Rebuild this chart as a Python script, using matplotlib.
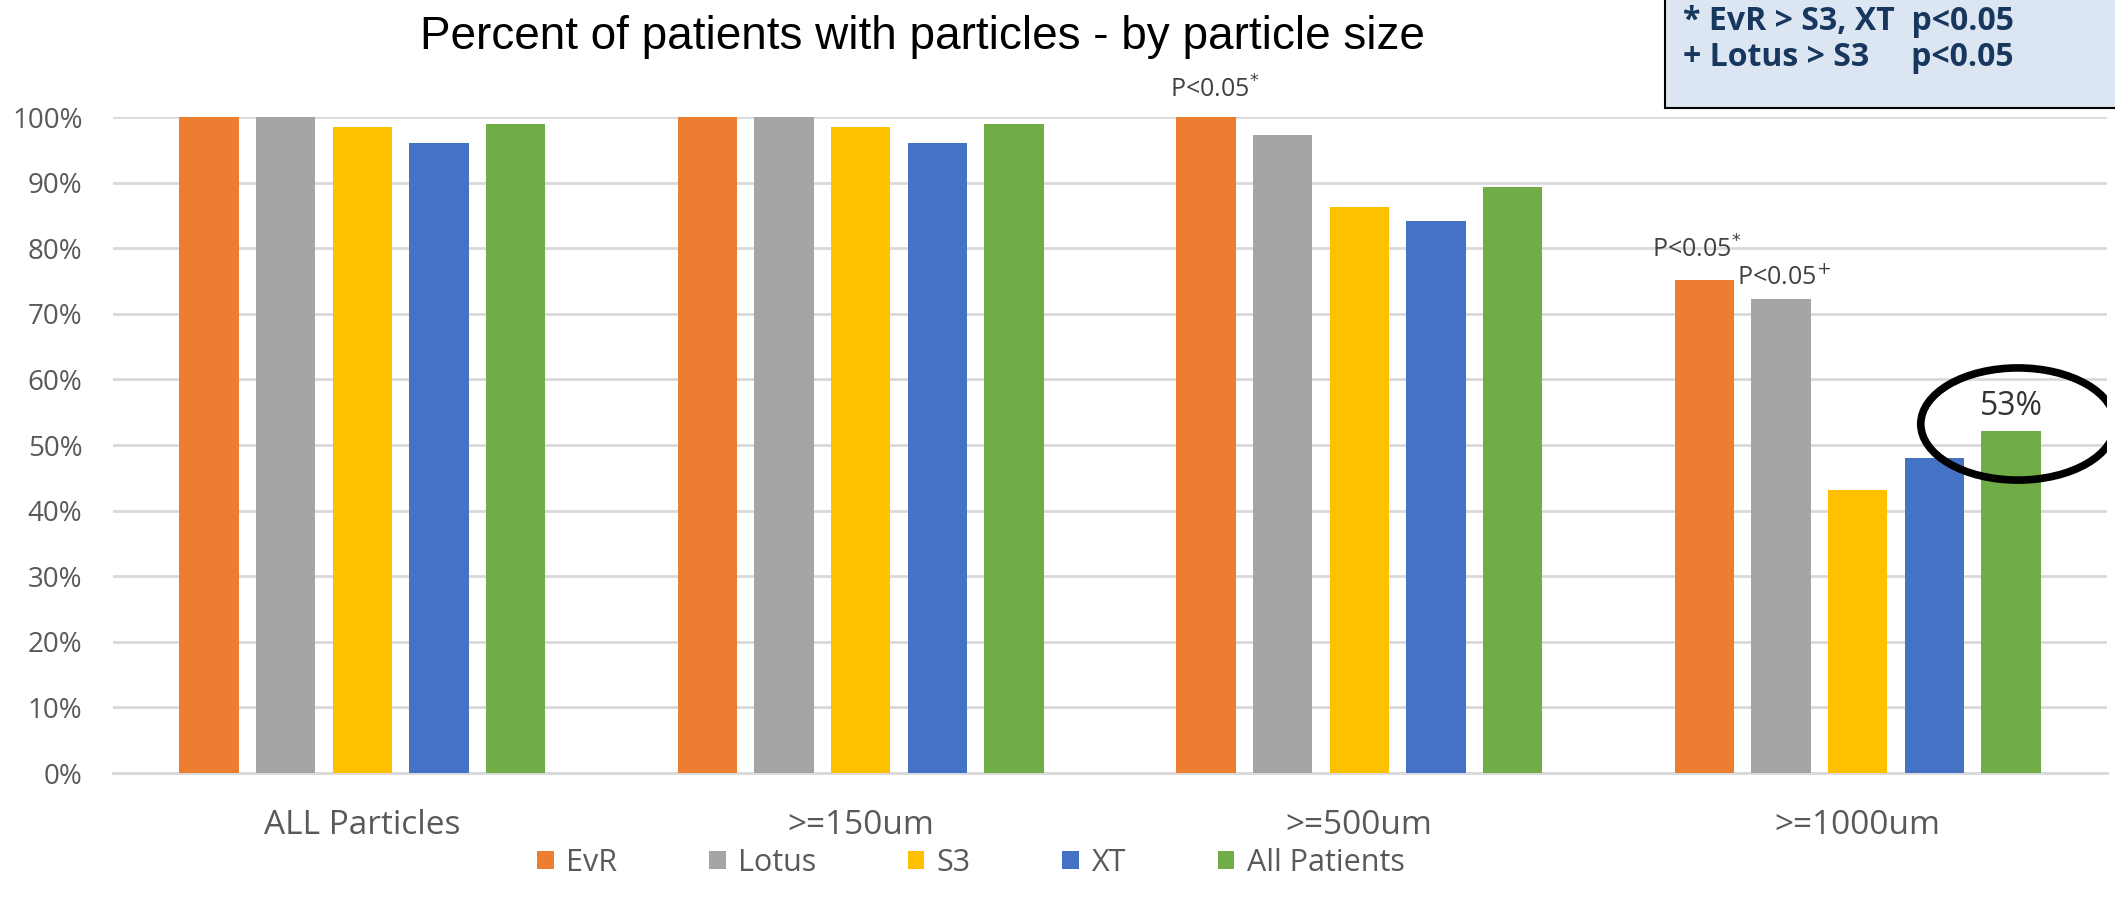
import numpy as np
import matplotlib.pyplot as plt
from matplotlib.patches import Ellipse, Rectangle

# data
categories = ["ALL Particles", ">=150um", ">=500um", ">=1000um"]
series = ["EvR", "Lotus", "S3", "XT", "All Patients"]
evr = [1.00, 1.00, 1.00, 0.751]
lotus = [1.00, 1.00, 0.972, 0.723]
s3 = [0.985, 0.985, 0.863, 0.432]
xt = [0.960, 0.960, 0.841, 0.480]
all_pat = [0.990, 0.990, 0.893, 0.522]
colors = ["#ED7D31", "#A5A5A5", "#FFC000", "#4472C4", "#70AD47"]
yticks = np.arange(0, 1.01, 0.1)

gray = "#595959"
plt.rcParams['font.family'] = ['Open Sans', 'DejaVu Sans']

fig = plt.figure(figsize=(21.15, 8.97), dpi=100)
ax = fig.add_axes([113/2115, 1-773/897, (2107-113)/2115, (773-117)/897])

x = np.arange(len(categories))
pitch, width = 0.1537, 0.119
bars = []
for i, (name, vals) in enumerate(zip(series, [evr, lotus, s3, xt, all_pat])):
    b = ax.bar(x + (i-2)*pitch, vals, width, color=colors[i], label=name, zorder=3)
    bars.append(b)

ax.set_xlim(-0.5, 3.5)
ax.set_ylim(0, 1.0)
ax.set_yticks(yticks)
ax.set_yticklabels([f"{int(round(t*100))}%" for t in yticks], fontsize=20, color=gray)
ax.set_xticks(x)
ax.set_xticklabels(categories, fontsize=24, color=gray)
ax.tick_params(length=0, pad=22)
ax.tick_params(axis='x', pad=26)
ax.grid(axis='y', color="#D9D9D9", lw=2, zorder=0)
for s in ['top', 'right', 'left']:
    ax.spines[s].set_visible(False)
ax.spines['bottom'].set_color("#D9D9D9")
ax.spines['bottom'].set_linewidth(2)

# significance labels
def plabel(bar, mark, dx=0, dy=8):
    ax.annotate("P<0.05$^{" + mark + "}$", xy=(bar.get_x() + bar.get_width()/2, bar.get_height()),
                xytext=(dx, dy), textcoords='offset points', ha='center', va='bottom',
                fontsize=18, color="#404040", annotation_clip=False)

plabel(bars[0][2], "*", dx=6, dy=10)
plabel(bars[0][3], "*", dx=-6, dy=12)
plabel(bars[1][3], "+", dx=2, dy=6)

# circled value on All Patients >=1000um
gb = bars[4][3]
gx = gb.get_x() + gb.get_width()/2
ax.text(gx, gb.get_height() + 0.012, f"{round(all_pat[3]*100+0.5):.0f}%", ha='center', va='bottom',
        fontsize=23, color="#333333", zorder=6)
ax.add_patch(Ellipse((gx + 0.014, gb.get_height() + 0.01), 0.39, 0.171, fill=False, ec='black', lw=5.5, zorder=7))

fig.text(922/2115, 1-37/897, "Percent of patients with particles - by particle size",
         ha='center', va='center', fontsize=33, family=['Liberation Sans', 'DejaVu Sans'])

# note box, top right
fig.patches.append(Rectangle((1665/2115, 1-108/897), 0.3, 0.2, transform=fig.transFigure,
                             fc="#DCE6F2", ec='black', lw=1.5, zorder=5))
fig.text(1683/2115, 1-22/897, "* EvR > S3, XT  p<0.05", fontsize=23, fontweight='bold',
         color="#17375E", va='center', zorder=6)
fig.text(1683/2115, 1-57/897, "+ Lotus > S3     p<0.05", fontsize=23, fontweight='bold',
         color="#17375E", va='center', zorder=6)

fig.legend(handles=[b[0] for b in bars], labels=series, loc='center', bbox_to_anchor=(0.459, 1-863/897),
           ncol=5, frameon=False, fontsize=22, labelcolor=gray, handlelength=0.55, handleheight=0.55,
           handletextpad=0.4, columnspacing=3.0)

fig.savefig("out.png", dpi=100)
